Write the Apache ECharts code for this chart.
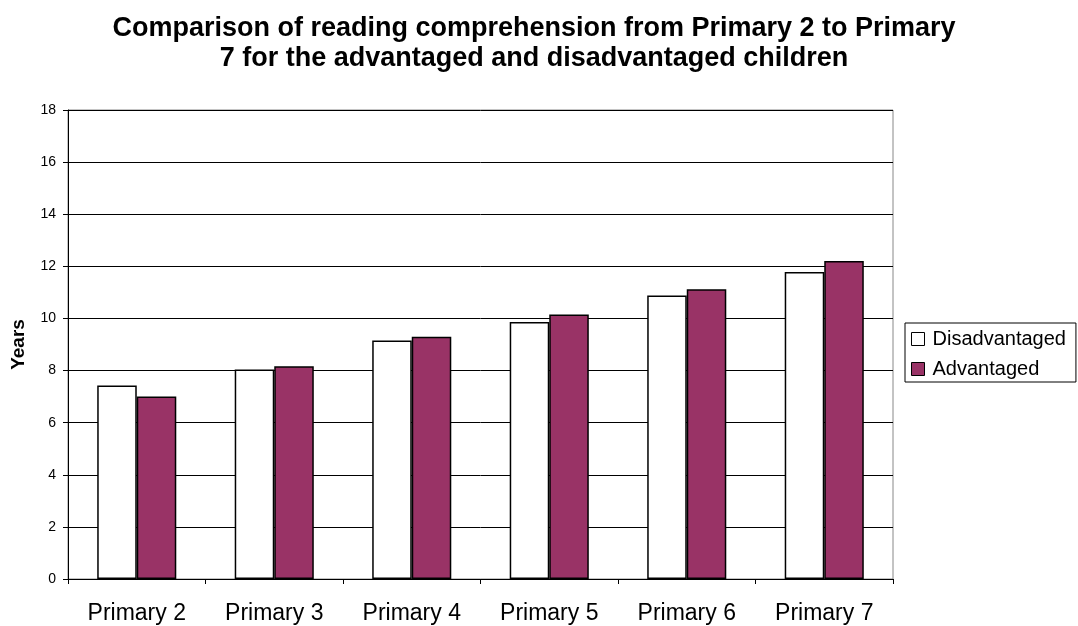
<!DOCTYPE html>
<html><head><meta charset="utf-8">
<script src="https://cdn.jsdelivr.net/npm/echarts@6/dist/echarts.min.js"></script>
<style>html,body{margin:0;padding:0;background:#fff}#c{width:1078px;height:626px}</style>
</head><body><div id="c"></div>
<script>
const categories = ['Primary 2','Primary 3','Primary 4','Primary 5','Primary 6','Primary 7'];
const disadvantaged = [7.43, 8.04, 9.15, 9.86, 10.88, 11.78];
const advantaged = [7.0, 8.17, 9.3, 10.15, 11.12, 12.2];
const chart = echarts.init(document.getElementById('c'));
const F = '"Liberation Sans", Arial, sans-serif';
chart.setOption({
  backgroundColor: '#fff',
  animation: false,
  title: {
    text: 'Comparison of reading comprehension from Primary 2 to Primary\n7 for the advantaged and disadvantaged children',
    left: 529, top: 9, textAlign: 'center',
    textStyle: {fontFamily: F, fontSize: 27, fontWeight: 'bold', color: '#000', lineHeight: 30}
  },
  legend: {
    orient: 'vertical', left: 905, top: 323,
    padding: [6, 10, 3, 6], itemGap: 10,
    borderColor: '#000', borderWidth: 1,
    itemWidth: 13, itemHeight: 13, itemStyle: {borderColor: '#000', borderWidth: 1},
    textStyle: {fontFamily: F, fontSize: 20, color: '#000', padding: [0,0,0,3]},
    data: [{name: 'Disadvantaged', icon: 'rect'}, {name: 'Advantaged', icon: 'rect'}]
  },
  grid: {left: 68, right: 185, top: 110, bottom: 47, show: true, borderColor: '#888', borderWidth: 1},
  xAxis: {
    type: 'category', data: categories,
    axisLine: {lineStyle: {color: '#000', width: 1}},
    axisTick: {show: true, length: 5, lineStyle: {color: '#000'}},
    axisLabel: {fontFamily: F, fontSize: 23, color: '#000', margin: 23}
  },
  yAxis: {
    type: 'value', min: 0, max: 18, interval: 2,
    name: 'Years', nameLocation: 'middle', nameGap: 40,
    nameTextStyle: {fontFamily: F, fontSize: 19, fontWeight: 'bold', color: '#000'},
    axisLine: {show: true, lineStyle: {color: '#000', width: 1}},
    axisTick: {show: true, length: 5, lineStyle: {color: '#000'}},
    axisLabel: {fontFamily: F, fontSize: 14, color: '#000', margin: 12},
    splitLine: {lineStyle: {color: '#000', width: 1}}
  },
  series: [
    {name: 'Disadvantaged', type: 'bar', data: disadvantaged, barGap: '0%', barCategoryGap: '42.5%',
     itemStyle: {color: '#fff', borderColor: '#000', borderWidth: 1.5}},
    {name: 'Advantaged', type: 'bar', data: advantaged, barGap: '0%', barCategoryGap: '42.5%',
     itemStyle: {color: '#993366', borderColor: '#000', borderWidth: 1.5}}
  ]
});
</script></body></html>
